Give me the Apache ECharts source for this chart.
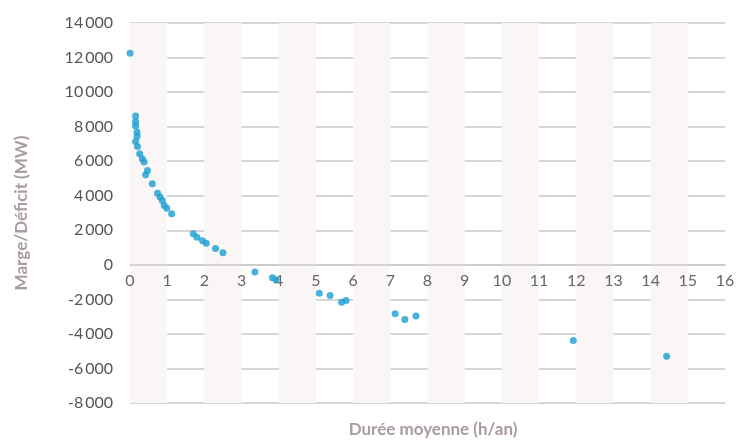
<!DOCTYPE html>
<html>
<head>
<meta charset="utf-8">
<script src="https://cdn.jsdelivr.net/npm/echarts@6/dist/echarts.min.js"></script>
<style>
html,body{margin:0;padding:0;background:#fff;}
#chart{width:742px;height:440px;}
</style>
</head>
<body>
<div id="chart"></div>
<script>
// Durée moyenne (h/an)
const durations = [0.0, 0.15, 0.15, 0.15, 0.19, 0.19, 0.15, 0.2, 0.26, 0.33, 0.38, 0.47, 0.42, 0.6,
  0.74, 0.81, 0.87, 0.92, 0.99, 1.12,
  1.7, 1.8, 1.95, 2.05, 2.3, 2.5,
  3.36, 3.83, 3.93,
  5.09, 5.38, 5.69, 5.81,
  7.13, 7.39, 7.69,
  11.92, 14.43];
// Marge/Déficit (MW)
const margins = [12250, 8610, 8300, 8030, 7680, 7450, 7140, 6850, 6430, 6140, 5950, 5460, 5210, 4700,
  4150, 3920, 3720, 3430, 3280, 2950,
  1800, 1600, 1400, 1250, 950, 700,
  -420, -750, -870,
  -1640, -1780, -2160, -2060,
  -2840, -3160, -2970,
  -4380, -5290];
const xTicks = [0, 16, 1];
const yTicks = [-8000, 14000, 2000];
const xTitle = 'Durée moyenne (h/an)';
const yTitle = 'Marge/Déficit (MW)';

const points = durations.map((d, i) => [d, margins[i]]);
const fmt = v => {
  const s = Math.abs(v).toString().replace(/\B(?=(\d{3})+(?!\d))/g, '\u2009');
  return (v < 0 ? '-' : '') + s;
};

const GRID = {left: 130, right: 17, top: 23, bottom: 37};
const plotH = 440 - GRID.top - GRID.bottom;
// place x axis at the y = 0 line (distance from bottom of grid)
const zeroOffset = -plotH * (0 - yTicks[0]) / (yTicks[1] - yTicks[0]);

const chart = echarts.init(document.getElementById('chart'), null, {renderer: 'canvas'});
chart.setOption({
  backgroundColor: '#ffffff',
  animation: false,
  title: {
    text: xTitle,
    left: 428, top: 416, textAlign: 'center',
    textStyle: {fontFamily: 'Lato', fontWeight: 'bold', fontSize: 17, color: '#a99c9c'}
  },
  grid: Object.assign({containLabel: false, outerBoundsMode: 'none'}, GRID),
  xAxis: {
    type: 'value',
    position: 'bottom',
    offset: zeroOffset,
    min: xTicks[0], max: xTicks[1], interval: xTicks[2],
    axisLine: {show: true, onZero: false, lineStyle: {color: '#c9c9c9', width: 1.5}},
    axisTick: {show: false},
    axisLabel: {fontFamily: 'Lato', fontSize: 16, color: '#666', margin: 8},
    splitLine: {show: false},
    splitArea: {show: true, areaStyle: {color: ['#faf6f6', 'rgba(255,255,255,0)']}}
  },
  yAxis: {
    type: 'value',
    min: yTicks[0], max: yTicks[1], interval: yTicks[2],
    name: yTitle,
    nameLocation: 'middle',
    nameGap: 100,
    nameRotate: 90,
    nameTextStyle: {fontFamily: 'Lato', fontWeight: 'bold', fontSize: 17, color: '#a99c9c'},
    axisLine: {show: false},
    axisTick: {show: false},
    axisLabel: {fontFamily: 'Lato', fontSize: 16, color: '#555', margin: 17, formatter: fmt},
    splitLine: {show: true, lineStyle: {color: '#c9c9c9', width: 1.5}}
  },
  series: [{
    type: 'scatter',
    data: points,
    symbolSize: 7,
    itemStyle: {color: '#1a9fd3'}
  }]
});
</script>
</body>
</html>
